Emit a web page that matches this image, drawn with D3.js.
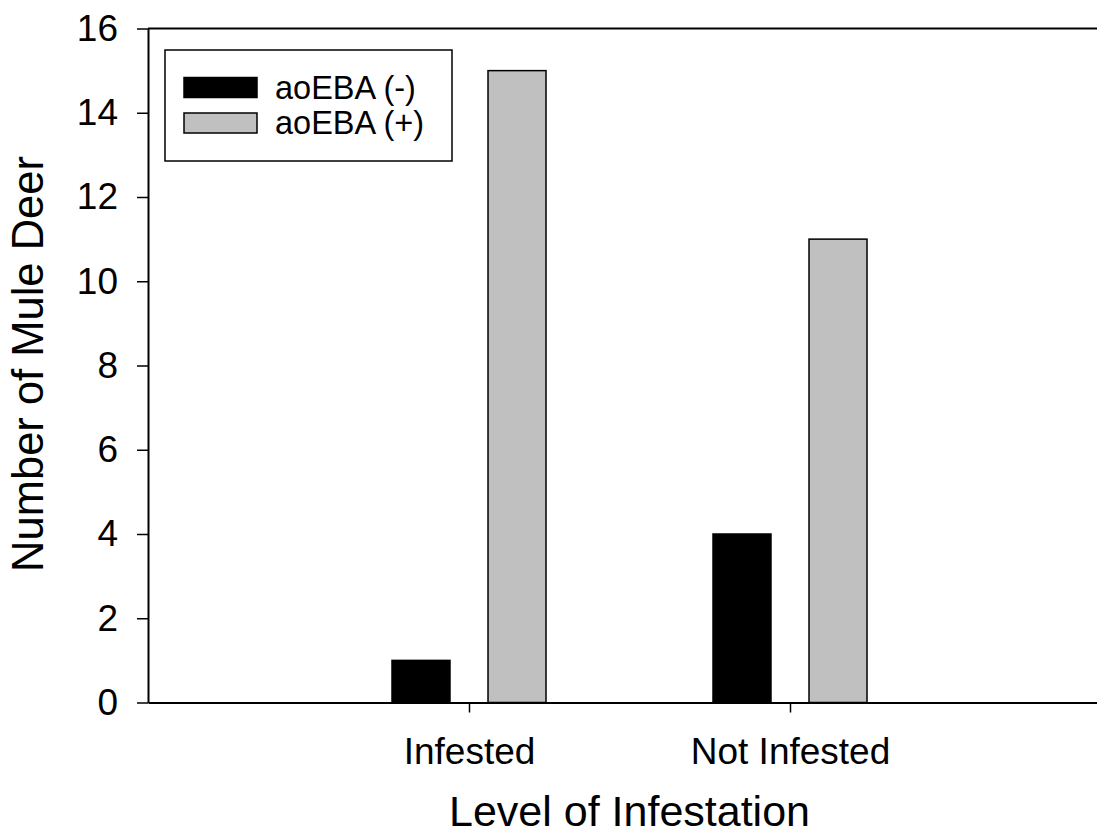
<!DOCTYPE html>
<html>
<head>
<meta charset="utf-8">
<script src="https://cdn.jsdelivr.net/npm/d3@7"></script>
<style>
  html, body { margin: 0; padding: 0; background: #fff; }
  svg { display: block; font-family: "Liberation Sans", Arial, sans-serif; }
</style>
</head>
<body>
<svg id="chart" width="1097" height="836"></svg>
<script>
// ---- data ----
const categories = ["Infested", "Not Infested"];
const seriesNames = ["aoEBA (-)", "aoEBA (+)"];
const seriesNeg = [1, 4];    // aoEBA (-)
const seriesPos = [15, 11];  // aoEBA (+)
const yTicks = [0, 2, 4, 6, 8, 10, 12, 14, 16];
const seriesColors = ["#000000", "#c0c0c0"];
const xTitle = "Level of Infestation";
const yTitle = "Number of Mule Deer";

const seriesValues = [seriesNeg, seriesPos];
const table = categories.map((c, i) => ({
  category: c,
  values: seriesNames.map((s, j) => ({ series: s, value: seriesValues[j][i], color: seriesColors[j] }))
}));

// ---- layout ----
const svg = d3.select("#chart");
const mLeft = 148, mRight = 1111, mTop = 28.5, mBottom = 702.5;

const x = d3.scalePoint().domain(categories).range([mLeft, mRight]).padding(1);
const x1 = d3.scaleBand().domain(seriesNames).range([-77, 77]).paddingInner(0.396);
const y = d3.scaleLinear().domain([0, 16]).range([mBottom, mTop]);

// bars
const groups = svg.append("g").selectAll("g").data(table).join("g")
  .attr("transform", d => `translate(${x(d.category)},0)`);
groups.selectAll("rect").data(d => d.values).join("rect")
  .attr("x", d => x1(d.series))
  .attr("width", x1.bandwidth())
  .attr("y", d => y(d.value))
  .attr("height", d => y(0) - y(d.value))
  .attr("fill", d => d.color)
  .attr("stroke", "#000")
  .attr("stroke-width", 1.5);

// top frame line
svg.append("line")
  .attr("x1", mLeft).attr("x2", 1100)
  .attr("y1", y(16)).attr("y2", y(16))
  .attr("stroke", "#000").attr("stroke-width", 2);

// y axis
const yAxis = svg.append("g")
  .attr("transform", `translate(${mLeft},0)`)
  .call(d3.axisLeft(y).tickValues(yTicks).tickSize(11).tickPadding(19).tickSizeOuter(0));
yAxis.select(".domain").attr("stroke-width", 2);
yAxis.selectAll(".tick line").attr("stroke-width", 1.5);
yAxis.selectAll(".tick text")
  .attr("font-size", 37).attr("fill", "#000")
  .attr("font-family", "'Liberation Sans', Arial, sans-serif");

// x axis
const xAxis = svg.append("g")
  .attr("transform", `translate(0,${mBottom})`)
  .call(d3.axisBottom(x).tickSize(10).tickPadding(25).tickSizeOuter(0));
xAxis.select(".domain").attr("stroke-width", 2);
xAxis.selectAll(".tick line").attr("stroke-width", 1.5);
xAxis.selectAll(".tick text")
  .attr("font-size", 37).attr("fill", "#000")
  .attr("font-family", "'Liberation Sans', Arial, sans-serif");

// axis titles
svg.append("text")
  .attr("x", 629.5).attr("y", 826)
  .attr("text-anchor", "middle")
  .attr("font-size", 43)
  .text(xTitle);

svg.append("text")
  .attr("transform", `translate(43,364) rotate(-90)`)
  .attr("text-anchor", "middle")
  .attr("font-size", 43.5)
  .text(yTitle);

// legend
const legend = svg.append("g");
legend.append("rect")
  .attr("x", 165).attr("y", 50).attr("width", 287).attr("height", 111)
  .attr("fill", "#fff").attr("stroke", "#000").attr("stroke-width", 1.5);
const items = legend.selectAll("g.item").data(seriesNames).join("g")
  .attr("class", "item")
  .attr("transform", (d, i) => `translate(184,${77.5 + i * 35.5})`);
items.append("rect")
  .attr("width", 73).attr("height", 20)
  .attr("fill", (d, i) => seriesColors[i])
  .attr("stroke", "#000").attr("stroke-width", 1.5);
items.append("text")
  .attr("x", 91).attr("y", 10)
  .attr("dy", "0.35em")
  .attr("font-size", 32.5)
  .text(d => d);
</script>
</body>
</html>
